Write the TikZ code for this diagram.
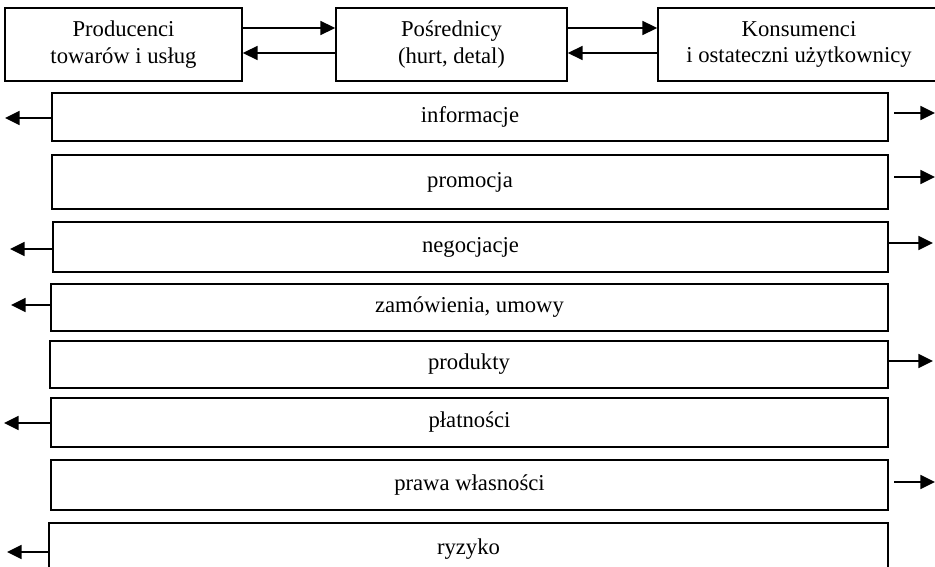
\documentclass[tikz,border=0pt]{standalone}
\usepackage{fontspec}
\setmainfont{Liberation Serif}
\usetikzlibrary{arrows.meta}
\begin{document}
\begin{tikzpicture}[x=0.75pt,y=-0.75pt,
  box/.style 2 args={draw,line width=1.3pt,inner sep=0pt,align=center,
    minimum width={#1*0.75pt},minimum height={#2*0.75pt},
    font=\fontsize{17}{20}\selectfont},
  arr/.style={line width=1.3pt,-{Triangle[length=11pt,width=10.5pt]}}]
\clip (0,0) rectangle (935,567);
% participants of the channel
\node[box={237}{73}] (prod) at (123.5,44.5) {Producenci\\towarów i usług};
\node[box={231}{73}] (posr) at (451.5,44.5) {Pośrednicy\\(hurt, detal)};
\node[box={282}{73}] (kons) at (799,44.5) {Konsumenci\\i ostateczni użytkownicy};
\coordinate (up) at (0,28);
\coordinate (dn) at (0,53);
\draw[arr] (prod.east |- up) -- (posr.west |- up);
\draw[arr] (posr.west |- dn) -- (prod.east |- dn);
\draw[arr] (posr.east |- up) -- (kons.west |- up);
\draw[arr] (kons.west |- dn) -- (posr.east |- dn);
% flows
\node[box={836}{48}] (inf) at (470,117) {informacje};
\node[box={836}{54}] (prom) at (470,182) {promocja};
\node[box={835}{50}] (neg) at (470.5,247) {negocjacje};
\node[box={837}{47}] (zam) at (469.5,307.5) {zamówienia, umowy};
\node[box={838}{47}] (prd) at (469,364.5) {produkty};
\node[box={837}{49}] (plat) at (469.5,422.5) {płatności};
\node[box={837}{50}] (praw) at (469.5,485) {prawa własności};
\node[box={839}{52}] (ryz) at (468.5,549) {ryzyko};
% backward flows (to producers)
\coordinate (infL) at (5,118);
\coordinate (negL) at (10,249);
\coordinate (zamL) at (11,305);
\coordinate (platL) at (4,423);
\coordinate (ryzL) at (7,552);
\draw[arr] (inf.west |- infL) -- (infL);
\draw[arr] (neg.west |- negL) -- (negL);
\draw[arr] (zam.west |- zamL) -- (zamL);
\draw[arr] (plat.west |- platL) -- (platL);
\draw[arr] (ryz.west |- ryzL) -- (ryzL);
% forward flows (to consumers)
\coordinate (infR) at (935,113);
\coordinate (promR) at (935,177);
\coordinate (negR) at (933,243);
\coordinate (prdR) at (933,361);
\coordinate (prawR) at (935,482);
\draw[arr,shorten <=4pt] (inf.east |- infR) -- (infR);
\draw[arr,shorten <=4pt] (prom.east |- promR) -- (promR);
\draw[arr] (neg.east |- negR) -- (negR);
\draw[arr] (prd.east |- prdR) -- (prdR);
\draw[arr,shorten <=4pt] (praw.east |- prawR) -- (prawR);
\end{tikzpicture}
\end{document}
